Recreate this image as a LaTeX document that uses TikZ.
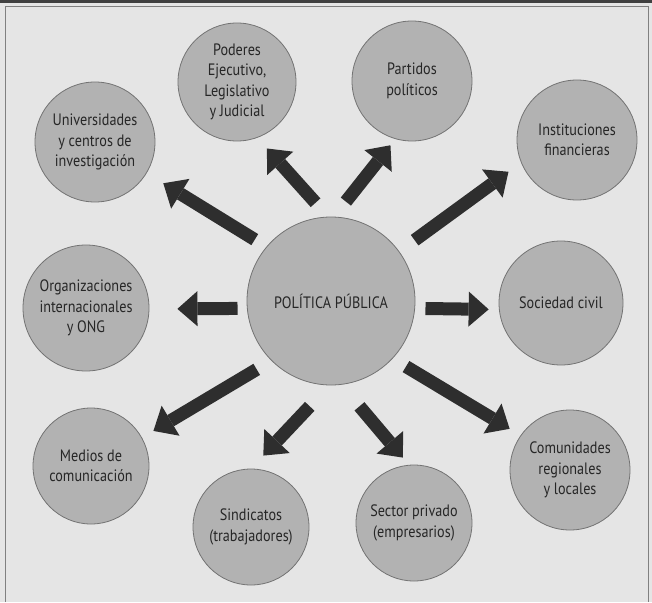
\documentclass[tikz,border=0pt]{standalone}
\usepackage{fontspec}
\setmainfont{PT Sans}[FakeStretch=0.86]
\usetikzlibrary{arrows.meta}

\begin{document}
\begin{tikzpicture}[
  x=1pt, y=-1pt,
  every node/.style={font=\fontsize{16.5}{20.5}\selectfont, text=black!85},
  actor/.style={
    circle,
    draw=black!55,
    line width=0.8pt,
    fill=black!30,
    align=center,
    inner sep=0pt,
    minimum size=#1
  },
  actor/.default=120pt,
  arrow/.style={-{Triangle[width=35pt,length=20pt,line width=0pt]}, line width=13pt, draw=black!82}
]
\useasboundingbox (0,0) rectangle (652,602);
\fill[black!10] (0,0) rectangle (652,602);
\fill[black!75] (0,0) rectangle (652,3);
\draw[black!50, line width=0.8pt] (5,602) -- (5,6) -- (648,6) -- (648,602);

% centre and the ten actors round it
\node[actor=168pt, font=\fontsize{16.5}{20}\selectfont] (policy) at (331,301) {POLÍTICA PÚBLICA};
\node[actor] (univ) at (95,142) {Universidades\\y centros de\\investigación};
\node[actor=118pt] (powers) at (237,82) {Poderes\\Ejecutivo,\\Legislativo\\y Judicial};
\node[actor] (parties) at (412,81) {Partidos\\políticos};
\node[actor] (finance) at (577,140) {Instituciones\\financieras};
\node[actor=124pt] (society) at (561,303) {Sociedad civil};
\node[actor] (regions) at (570,470) {Comunidades\\regionales\\y locales};
\node[actor=116pt] (private) at (414,523) {Sector privado\\(empresarios)};
\node[actor=116pt] (unions) at (251,527) {Sindicatos\\(trabajadores)};
\node[actor=116pt] (media) at (91,466) {Medios de\\comunicación};
\node[actor=126pt] (ngo) at (86,308) {Organizaciones\\internacionales\\y ONG};

\foreach \from/\target/\to/\gapa/\gapb in {
    140/univ/-31/13.6pt/19.4pt, 92/powers/-70/18.7pt/14.3pt,
    88/parties/254/19.2pt/7.9pt, 36/finance/202/19pt/15.5pt,
    -5/society/186/10.4pt/10.3pt, -43/regions/145/15.5pt/12.7pt,
    -83/private/95/28.2pt/9.5pt, -91/unions/90/28.8pt/17.9pt,
    225/media/29/17pt/13.2pt, 185/ngo/-1/9.4pt/28pt}
  \draw[arrow, shorten <=\gapa, shorten >=\gapb] (policy.\from) -- (\target.\to);
\end{tikzpicture}
\end{document}
